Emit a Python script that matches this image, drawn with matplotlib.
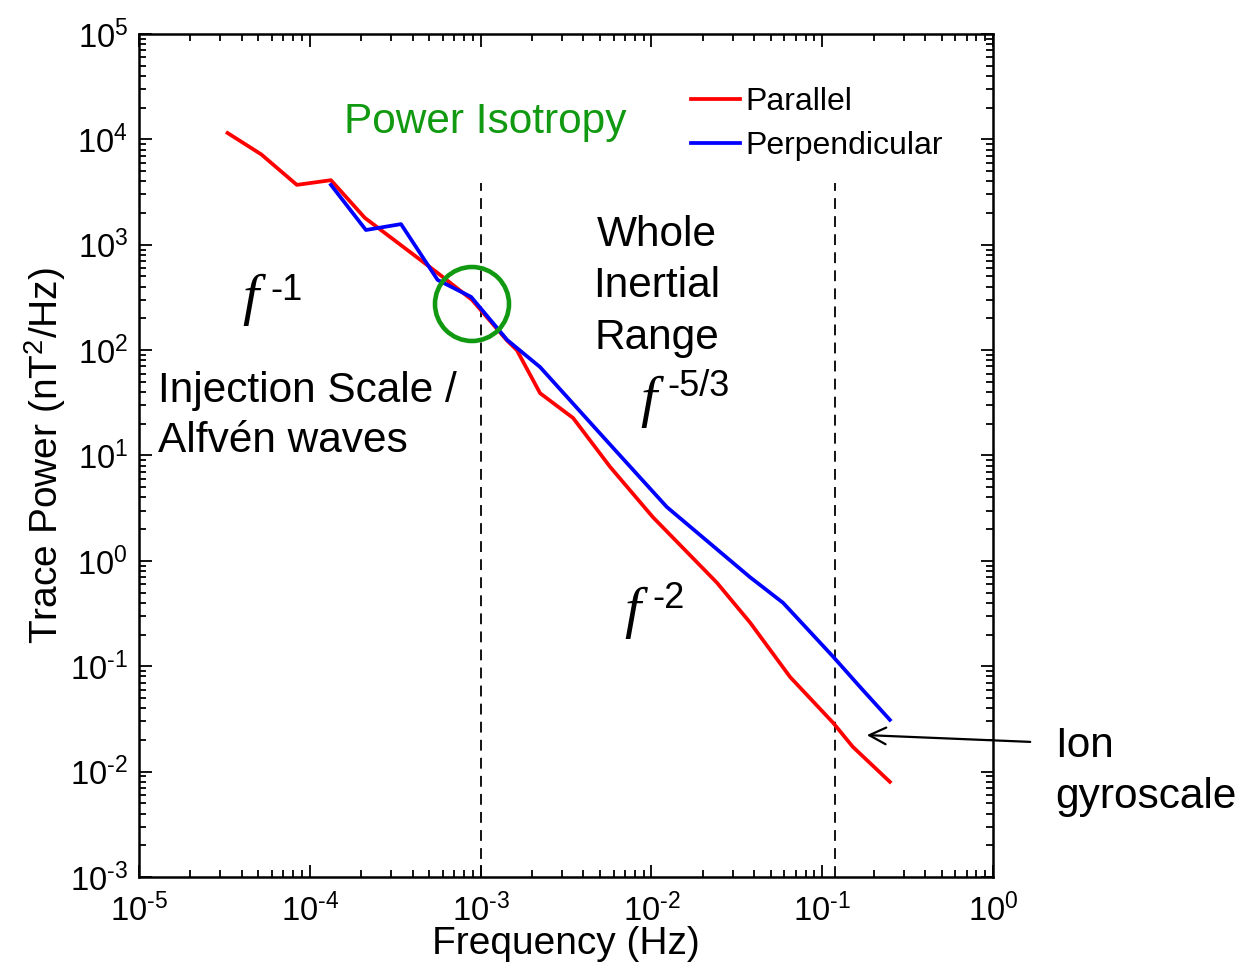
import numpy as np
import matplotlib.pyplot as plt
from matplotlib.patches import Ellipse
from matplotlib.ticker import LogLocator, FuncFormatter, NullFormatter

plt.rcParams['font.family'] = ['Liberation Sans', 'DejaVu Sans']
plt.rcParams['mathtext.fontset'] = 'custom'
plt.rcParams['mathtext.rm'] = 'Liberation Sans'
plt.rcParams['mathtext.default'] = 'rm'

# Parallel spectrum (red)
par_f = [3.3e-5, 5.2e-5, 8.4e-5, 1.33e-4, 2.1e-4, 3.6e-4, 5.6e-4, 8.9e-4, 1.43e-3, 1.63e-3,
         2.23e-3, 3.48e-3, 5.73e-3, 1.02e-2, 2.42e-2, 3.78e-2, 6.49e-2, 0.116, 0.151, 0.249]
par_p = [1.15e4, 7.2e3, 3.7e3, 4.1e3, 1.8e3, 930, 540, 300, 123, 100,
         39, 22.7, 7.8, 2.6, 0.62, 0.26, 0.079, 0.029, 0.0172, 0.008]

# Perpendicular spectrum (blue)
perp_f = [1.33e-4, 2.13e-4, 3.42e-4, 5.6e-4, 8.8e-4, 1.43e-3, 2.23e-3, 5.0e-3,
          1.23e-2, 3.78e-2, 5.9e-2, 0.116, 0.166, 0.249]
perp_p = [3.7e3, 1.38e3, 1.57e3, 464, 320, 125, 69, 16.2,
          3.25, 0.70, 0.40, 0.123, 0.064, 0.031]

# scale breaks (dashed lines)
break_f = [1e-3, 0.119]
break_top = 3.85e3

W, H = 1240, 968
fig = plt.figure(figsize=(W / 100, H / 100), dpi=100)
ax = fig.add_axes([139 / W, 1 - 877 / H, 854 / W, 843 / H])

ax.plot(par_f, par_p, color='#ff0000', lw=2.7, label='Parallel', zorder=3)
ax.plot(perp_f, perp_p, color='#0000ff', lw=2.7, label='Perpendicular', zorder=3)

for bf in break_f:
    ax.plot([bf, bf], [1e-3, break_top], color='black', lw=1.3, dashes=(6, 4), zorder=2)

ax.set_xscale('log')
ax.set_yscale('log')
ax.set_xlim(1e-5, 1)
ax.set_ylim(1e-3, 1e5)


def pow10(v, pos):
    e = int(round(np.log10(v)))
    s = str(e).replace('-', '\N{HYPHEN}')
    return '$10^{%s}$' % s


ax.xaxis.set_major_locator(LogLocator(base=10, numticks=10))
ax.yaxis.set_major_locator(LogLocator(base=10, numticks=12))
ax.xaxis.set_minor_locator(LogLocator(base=10, subs=np.arange(2, 10), numticks=12))
ax.yaxis.set_minor_locator(LogLocator(base=10, subs=np.arange(2, 10), numticks=12))
ax.xaxis.set_major_formatter(FuncFormatter(pow10))
ax.yaxis.set_major_formatter(FuncFormatter(pow10))
ax.xaxis.set_minor_formatter(NullFormatter())
ax.yaxis.set_minor_formatter(NullFormatter())
ax.tick_params(which='both', direction='in', top=True, right=True, width=1.3)
ax.tick_params(which='major', length=9, labelsize=23.5)
ax.tick_params(axis='x', which='major', pad=12)
ax.tick_params(axis='y', which='major', pad=8)
ax.tick_params(which='minor', length=5)
for s in ax.spines.values():
    s.set_linewidth(1.8)

ax.set_xlabel('Frequency (Hz)', fontsize=28)
ax.set_ylabel('Trace Power (nT$^2$/Hz)', fontsize=28)
ax.xaxis.set_label_coords(0.5, -0.058)
ax.yaxis.set_label_coords(-0.083, 0.5)

leg = ax.legend(loc='upper left', bbox_to_anchor=(675 / W, 1 - 71 / H),
                bbox_transform=fig.transFigure, frameon=False, fontsize=23,
                handlelength=1.55, handletextpad=0.15, labelspacing=0.45, borderpad=0)

# isotropy circle
ax.add_patch(Ellipse(((472 - 139) / 854, (877 - 304) / 843), 74 / 854, 74 / 843,
                     transform=ax.transAxes, fill=False, edgecolor='#119911', lw=3.3, zorder=4))


def ftext(x, y, s, **kw):
    fig.text(x / W, 1 - y / H, s, **kw)


big = 30.5
ftext(485, 122, 'Power Isotropy', color='#119911', fontsize=big, ha='center', va='center')
ftext(158, 391, 'Injection Scale /', fontsize=big, ha='left', va='center')
ftext(158, 441, 'Alfvén waves', fontsize=big, ha='left', va='center')
ftext(657, 235, 'Whole', fontsize=big, ha='center', va='center')
ftext(657, 286, 'Inertial', fontsize=big, ha='center', va='center')
ftext(657, 338, 'Range', fontsize=big, ha='center', va='center')
ftext(1055, 746, 'Ion', fontsize=big, ha='left', va='center')
ftext(1055, 797, 'gyroscale', fontsize=big, ha='left', va='center')

serif = dict(family=['Liberation Serif', 'DejaVu Serif'], style='italic', fontsize=42)
ftext(250, 300, 'f', ha='center', va='center', **serif)
ftext(270, 290, '-1', fontsize=26, ha='left', va='center')
ftext(648, 402, 'f', ha='center', va='center', **serif)
ftext(667, 386, '-5/3', fontsize=26, ha='left', va='center')
ftext(632, 613, 'f', ha='center', va='center', **serif)
ftext(652, 598, '-2', fontsize=26, ha='left', va='center')

ax.annotate('', xy=(864 / W, 1 - 735 / H), xycoords='figure fraction',
            xytext=(1033 / W, 1 - 742 / H), textcoords='figure fraction',
            arrowprops=dict(arrowstyle='->', color='black', lw=1.6,
                            mutation_scale=30), annotation_clip=False)

fig.savefig('out.png', dpi=100)
